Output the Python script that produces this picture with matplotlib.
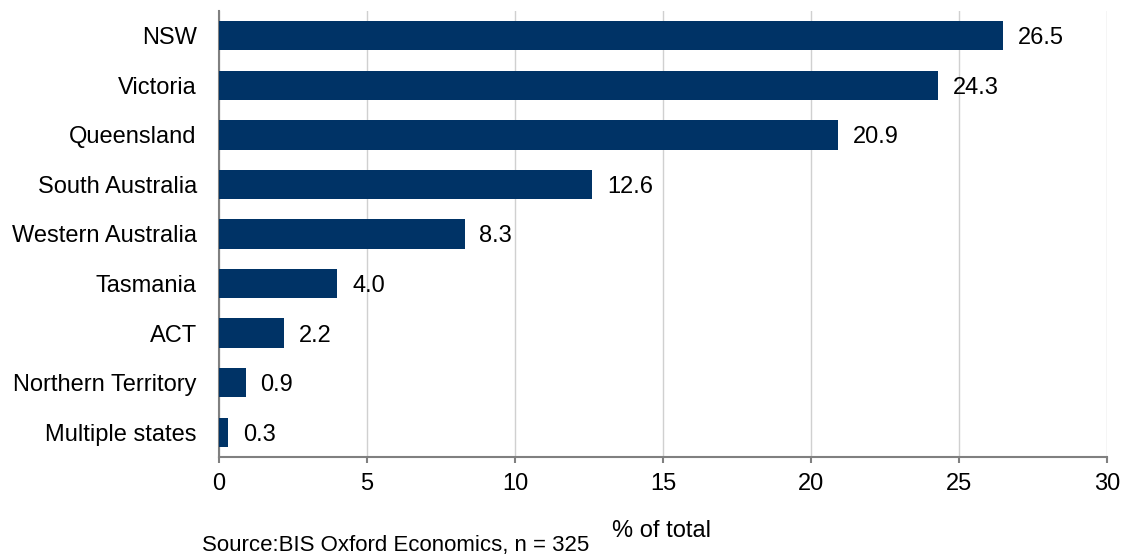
import numpy as np
import matplotlib
matplotlib.use("Agg")
from matplotlib import pyplot as plt

states = ["NSW", "Victoria", "Queensland", "South Australia", "Western Australia",
          "Tasmania", "ACT", "Northern Territory", "Multiple states"]
share = [26.5, 24.3, 20.9, 12.6, 8.3, 4.0, 2.2, 0.9, 0.3]
xticks = [0, 5, 10, 15, 20, 25, 30]

plt.rcParams['font.family'] = ['Liberation Sans', 'DejaVu Sans']

fig = plt.figure(figsize=(11.21, 5.55), dpi=100)
ax = fig.add_axes([219 / 1121, 1 - 457 / 555, 888 / 1121, 446 / 555])

y = np.arange(len(states))
ax.barh(y, share, height=0.59, color="#003366", zorder=3)
for yi, v in zip(y, share):
    ax.text(v + 0.5, yi, f"{v:.1f}", va="center_baseline", ha="left", fontsize=17,
            color="black")

ax.set_ylim(len(states) - 0.5, -0.5)
ax.set_xlim(0, 30)
ax.set_yticks(y)
ax.set_yticklabels(states, fontsize=17, va="center_baseline")
ax.set_xticks(xticks)
ax.set_xticklabels([str(t) for t in xticks], fontsize=17)
ax.tick_params(axis="y", length=0, pad=16)
ax.tick_params(axis="x", length=4.5, width=1.5, color="#808080", pad=7)

ax.grid(axis="x", color="#d0d0d0", linewidth=1, zorder=0)
for side in ["top", "right"]:
    ax.spines[side].set_visible(False)
for side in ["left", "bottom"]:
    ax.spines[side].set_color("#808080")
    ax.spines[side].set_linewidth(1.5)

fig.text(661 / 1121, 1 - 531 / 555, "% of total", ha="center", va="center", fontsize=17)
fig.text(202 / 1121, 1 - 546 / 555, "Source:BIS Oxford Economics, n = 325", ha="left",
         va="center", fontsize=16)

fig.savefig("out.png", dpi=100)
